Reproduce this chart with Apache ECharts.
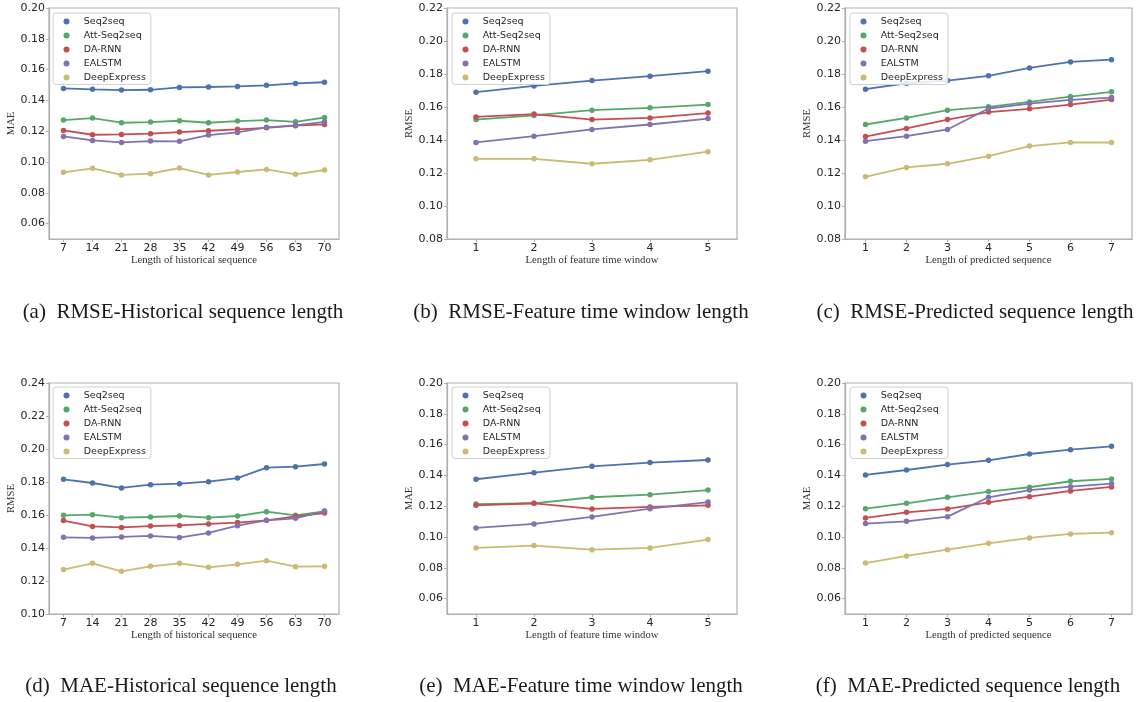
<!DOCTYPE html>
<html>
<head>
<meta charset="utf-8">
<script src="https://cdn.jsdelivr.net/npm/echarts@6/dist/echarts.min.js"></script>
<style>
html,body{margin:0;padding:0;background:#fff;}
#chart{width:1142px;height:702px;}
</style>
</head>
<body>
<div id="chart"></div>
<script>
// ---------- DATA ----------
const seriesNames = ['Seq2seq', 'Att-Seq2seq', 'DA-RNN', 'EALSTM', 'DeepExpress'];
const histCats = ['7', '14', '21', '28', '35', '42', '49', '56', '63', '70'];
const windowCats = ['1', '2', '3', '4', '5'];
const predCats = ['1', '2', '3', '4', '5', '6', '7'];

const yTicks05to20 = [0.06, 0.08, 0.10, 0.12, 0.14, 0.16, 0.18, 0.20];
const yTicks08to22 = [0.08, 0.10, 0.12, 0.14, 0.16, 0.18, 0.20, 0.22];
const yTicks10to24 = [0.10, 0.12, 0.14, 0.16, 0.18, 0.20, 0.22, 0.24];

// (a)
const aSeq = [0.1478, 0.1472, 0.1467, 0.1469, 0.1484, 0.1487, 0.1491, 0.1498, 0.1510, 0.1518];
const aAtt = [0.1272, 0.1285, 0.1255, 0.1259, 0.1268, 0.1255, 0.1266, 0.1272, 0.1261, 0.1289];
const aDa  = [0.1205, 0.1177, 0.1179, 0.1184, 0.1194, 0.1203, 0.1212, 0.1222, 0.1236, 0.1244];
const aEa  = [0.1166, 0.1140, 0.1127, 0.1136, 0.1134, 0.1175, 0.1192, 0.1225, 0.1238, 0.1261];
const aDe  = [0.0933, 0.0959, 0.0916, 0.0924, 0.0961, 0.0916, 0.0935, 0.0952, 0.0920, 0.0948];
// (b)
const bSeq = [0.1690, 0.1728, 0.1760, 0.1787, 0.1817];
const bAtt = [0.1524, 0.1549, 0.1581, 0.1595, 0.1615];
const bDa  = [0.1540, 0.1557, 0.1524, 0.1534, 0.1563];
const bEa  = [0.1385, 0.1423, 0.1464, 0.1494, 0.1530];
const bDe  = [0.1286, 0.1286, 0.1256, 0.1280, 0.1329];
// (c)
const cSeq = [0.1708, 0.1744, 0.1760, 0.1789, 0.1837, 0.1873, 0.1887];
const cAtt = [0.1494, 0.1534, 0.1581, 0.1601, 0.1631, 0.1663, 0.1692];
const cDa  = [0.1421, 0.1470, 0.1524, 0.1569, 0.1589, 0.1615, 0.1645];
const cEa  = [0.1393, 0.1423, 0.1464, 0.1591, 0.1621, 0.1643, 0.1657];
const cDe  = [0.1177, 0.1234, 0.1256, 0.1302, 0.1363, 0.1385, 0.1385];
// (d)
const dSeq = [0.1816, 0.1794, 0.1764, 0.1784, 0.1790, 0.1802, 0.1824, 0.1887, 0.1893, 0.1909];
const dAtt = [0.1598, 0.1602, 0.1584, 0.1588, 0.1594, 0.1584, 0.1594, 0.1620, 0.1598, 0.1622];
const dDa  = [0.1566, 0.1531, 0.1525, 0.1533, 0.1537, 0.1546, 0.1554, 0.1568, 0.1592, 0.1612];
const dEa  = [0.1465, 0.1461, 0.1467, 0.1473, 0.1463, 0.1491, 0.1535, 0.1568, 0.1580, 0.1624];
const dDe  = [0.1269, 0.1307, 0.1259, 0.1289, 0.1307, 0.1283, 0.1301, 0.1323, 0.1287, 0.1289];
// (e)
const eSeq = [0.1375, 0.1418, 0.1459, 0.1483, 0.1500];
const eAtt = [0.1214, 0.1219, 0.1258, 0.1275, 0.1305];
const eDa  = [0.1206, 0.1219, 0.1182, 0.1195, 0.1206];
const eEa  = [0.1059, 0.1085, 0.1130, 0.1184, 0.1227];
const eDe  = [0.0929, 0.0944, 0.0918, 0.0929, 0.0983];
// (f)
const fSeq = [0.1403, 0.1435, 0.1470, 0.1498, 0.1539, 0.1567, 0.1589];
const fAtt = [0.1184, 0.1219, 0.1258, 0.1295, 0.1323, 0.1362, 0.1377];
const fDa  = [0.1124, 0.1160, 0.1182, 0.1225, 0.1262, 0.1299, 0.1325];
const fEa  = [0.1087, 0.1102, 0.1132, 0.1258, 0.1305, 0.1327, 0.1346];
const fDe  = [0.0831, 0.0877, 0.0918, 0.0959, 0.0994, 0.1020, 0.1028];

// ---------- STYLE / LAYOUT ----------
const colors = ['#4C72B0', '#55A868', '#C44E52', '#8172B2', '#CCB974'];
const frameColor = '#b0b0b0';
const sans = 'DejaVu Sans';
const serif = 'Liberation Serif';

const panels = [
  {grid: {left: 49, top: 8, width: 290, height: 231}, cats: histCats, min: 0.05, max: 0.20, ticks: yTicks05to20,
   yName: 'MAE', xName: 'Length of historical sequence', data: [aSeq, aAtt, aDa, aEa, aDe],
   legend: {left: 53, top: 13}, caption: '(a)  RMSE-Historical sequence length', capX: 183, capY: 302},
  {grid: {left: 447, top: 8, width: 290, height: 231}, cats: windowCats, min: 0.08, max: 0.22, ticks: yTicks08to22,
   yName: 'RMSE', xName: 'Length of feature time window', data: [bSeq, bAtt, bDa, bEa, bDe],
   legend: {left: 452, top: 13}, caption: '(b)  RMSE-Feature time window length', capX: 581, capY: 302},
  {grid: {left: 845, top: 8, width: 287, height: 231}, cats: predCats, min: 0.08, max: 0.22, ticks: yTicks08to22,
   yName: 'RMSE', xName: 'Length of predicted sequence', data: [cSeq, cAtt, cDa, cEa, cDe],
   legend: {left: 850, top: 13}, caption: '(c)  RMSE-Predicted sequence length', capX: 975, capY: 302},
  {grid: {left: 49, top: 383, width: 290, height: 231}, cats: histCats, min: 0.10, max: 0.24, ticks: yTicks10to24,
   yName: 'RMSE', xName: 'Length of historical sequence', data: [dSeq, dAtt, dDa, dEa, dDe],
   legend: {left: 53, top: 387}, caption: '(d)  MAE-Historical sequence length', capX: 181, capY: 676},
  {grid: {left: 447, top: 383, width: 290, height: 231}, cats: windowCats, min: 0.05, max: 0.20, ticks: yTicks05to20,
   yName: 'MAE', xName: 'Length of feature time window', data: [eSeq, eAtt, eDa, eEa, eDe],
   legend: {left: 452, top: 387}, caption: '(e)  MAE-Feature time window length', capX: 581, capY: 676},
  {grid: {left: 845, top: 383, width: 287, height: 231}, cats: predCats, min: 0.05, max: 0.20, ticks: yTicks05to20,
   yName: 'MAE', xName: 'Length of predicted sequence', data: [fSeq, fAtt, fDa, fEa, fDe],
   legend: {left: 850, top: 387}, caption: '(f)  MAE-Predicted sequence length', capX: 968, capY: 676}
];

const option = {
  animation: false,
  backgroundColor: '#ffffff',
  title: [], grid: [], xAxis: [], yAxis: [], legend: [], series: []
};

panels.forEach((p, i) => {
  option.grid.push(Object.assign({show: true, borderColor: frameColor, borderWidth: 1.2, backgroundColor: 'transparent'}, p.grid));
  option.xAxis.push({
    type: 'category', gridIndex: i, data: p.cats, boundaryGap: true,
    name: p.xName, nameLocation: 'middle', nameGap: 14,
    nameTextStyle: {fontFamily: serif, fontSize: 10.7, color: '#333333'},
    axisLine: {show: true, lineStyle: {color: frameColor, width: 1.2}},
    axisTick: {show: true, alignWithLabel: true, length: 3, lineStyle: {color: frameColor}},
    axisLabel: {fontFamily: sans, fontSize: 11, color: '#262626', margin: 4},
    splitLine: {show: false}
  });
  option.yAxis.push({
    type: 'value', gridIndex: i, min: p.min, max: p.max, interval: 0.01,
    name: p.yName, nameLocation: 'middle', nameGap: 27, nameRotate: 90,
    nameTextStyle: {fontFamily: serif, fontSize: 10.7, color: '#333333'},
    axisLine: {show: true, lineStyle: {color: frameColor, width: 1.2}},
    axisTick: {show: true, length: 3, lineStyle: {color: frameColor}, customValues: p.ticks},
    axisLabel: {fontFamily: sans, fontSize: 11, color: '#262626', margin: 4, customValues: p.ticks,
      formatter: v => v.toFixed(2)},
    splitLine: {show: false}
  });
  option.legend.push({
    orient: 'vertical', left: p.legend.left, top: p.legend.top,
    data: seriesNames, icon: 'circle', itemWidth: 24.5, itemHeight: 6, itemGap: 4,
    padding: [3.5, 5, 2, 10.5], borderColor: '#d0d0d0', borderWidth: 1, borderRadius: 3,
    backgroundColor: 'rgba(255,255,255,0.85)',
    textStyle: {fontFamily: sans, fontSize: 9.5, color: '#262626', lineHeight: 10},
    selectedMode: false
  });
  option.title.push({
    text: p.caption, left: p.capX, top: p.capY, textAlign: 'center', padding: 0,
    textStyle: {fontFamily: serif, fontSize: 21, fontWeight: 'normal', color: '#1a1a1a'}
  });
  p.data.forEach((vals, k) => {
    option.series.push({
      name: seriesNames[k], type: 'line', xAxisIndex: i, yAxisIndex: i, data: vals,
      symbol: 'circle', symbolSize: 5.5, showSymbol: true,
      lineStyle: {color: colors[k], width: 1.8},
      itemStyle: {color: colors[k]},
      emphasis: {disabled: true}
    });
  });
});

const chart = echarts.init(document.getElementById('chart'), null, {renderer: 'canvas'});
chart.setOption(option);
</script>
</body>
</html>
